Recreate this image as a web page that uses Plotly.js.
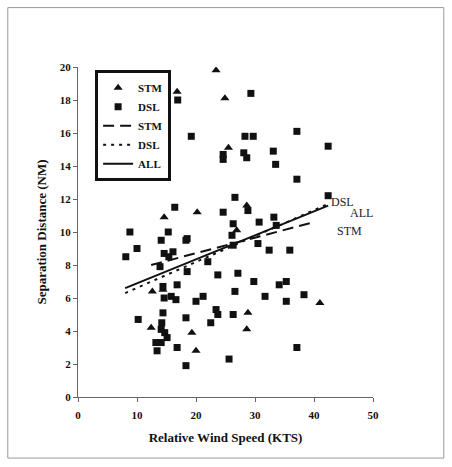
<!DOCTYPE html>
<html><head><meta charset="utf-8">
<script src="https://cdn.plot.ly/plotly-3.0.1.min.js"></script>
<style>html,body{margin:0;padding:0;background:#fff}#chart{width:452px;height:467px}</style>
</head><body><div id="chart"></div>
<script>
// STM (triangles)
const stmX = [23.4, 16.8, 24.9, 25.5, 14.6, 20.2, 28.6, 26.9, 12.6, 14.4, 12.4, 19.3, 20.0, 28.8, 28.6, 41.0];
const stmY = [19.8, 18.5, 18.1, 15.1, 10.9, 11.2, 11.6, 10.1, 6.4, 6.5, 4.2, 3.9, 2.8, 5.1, 4.1, 5.7];
// DSL (squares)
const dslX = [16.9, 29.3, 19.2, 37.1, 28.3, 29.7, 42.4, 24.6, 24.6, 28.1, 28.6, 33.1, 33.5, 37.1, 42.4, 26.6, 28.8, 24.6, 16.4, 30.7,
  33.2, 33.6, 26.3, 26.1, 26.3, 30.5, 32.4, 35.9, 22.0, 23.7, 27.1, 29.8, 34.1, 35.3, 26.6, 31.7, 38.3, 21.2, 35.3, 23.4,
  23.7, 26.3, 22.5, 37.1, 25.6, 20.0, 18.3, 18.3, 14.4, 16.8, 14.6, 15.8, 16.6, 14.4, 10.2, 14.2, 14.1, 14.7, 15.1, 13.2,
  14.1, 13.4, 16.8, 8.8, 15.3, 10.0, 14.1, 16.1, 14.6, 15.4, 8.1, 13.9, 18.3, 18.5, 18.5];
const dslY = [18.0, 18.4, 15.8, 16.1, 15.8, 15.8, 15.2, 14.7, 14.4, 14.8, 14.5, 14.9, 14.1, 13.2, 12.2, 12.1, 11.3, 11.2, 11.5, 10.6,
  10.9, 10.4, 10.5, 9.8, 9.2, 9.3, 8.9, 8.9, 8.2, 7.4, 7.5, 7.0, 6.8, 7.0, 6.4, 6.1, 6.2, 6.1, 5.8, 5.3,
  5.0, 5.0, 4.5, 3.0, 2.3, 5.8, 4.8, 1.9, 6.7, 6.8, 6.0, 6.1, 5.9, 5.1, 4.7, 4.5, 4.1, 3.9, 3.6, 3.3,
  3.3, 2.8, 3.0, 10.0, 10.0, 9.0, 9.5, 8.8, 8.7, 8.5, 8.5, 7.9, 9.5, 9.6, 7.6];
// trend lines (endpoints)
const stmFitX = [12.4, 40.0], stmFitY = [8.0, 10.6];
const dslFitX = [8.0, 42.4], dslFitY = [6.3, 11.7];
const allFitX = [8.0, 42.4], allFitY = [6.6, 11.6];
const lineLabels = ["DSL", "ALL", "STM"];
const lineLabelX = [44.9, 48.1, 46.1];
const lineLabelY = [11.8, 11.15, 10.05];

const serif = "Liberation Serif, Times New Roman, serif";
const traces = [
  {x: stmX, y: stmY, mode: "markers", type: "scatter", name: "STM",
   marker: {symbol: "triangle-up", size: 8, color: "#111"}},
  {x: dslX, y: dslY, mode: "markers", type: "scatter", name: "DSL",
   marker: {symbol: "square", size: 7, color: "#111"}},
  {x: stmFitX, y: stmFitY, mode: "lines", type: "scatter", name: "STM",
   line: {color: "#111", width: 2, dash: "11px,6px"}},
  {x: dslFitX, y: dslFitY, mode: "lines", type: "scatter", name: "DSL",
   line: {color: "#111", width: 2, dash: "3px,5px"}},
  {x: allFitX, y: allFitY, mode: "lines", type: "scatter", name: "ALL",
   line: {color: "#111", width: 2}}
];
const annotations = lineLabels.map((t, i) => ({
  x: lineLabelX[i], y: lineLabelY[i], xref: "x", yref: "y", text: t, showarrow: false,
  font: {family: serif, size: 12, color: "#222"}
}));
const layout = {
  width: 452, height: 467,
  margin: {l: 78, r: 79, t: 67, b: 70},
  paper_bgcolor: "#fff", plot_bgcolor: "#fff",
  showlegend: true,
  legend: {x: 0.058, y: 0.99, xanchor: "left", yanchor: "top",
    bordercolor: "#111", borderwidth: 3, bgcolor: "#fff",
    font: {family: serif, size: 11, color: "#111", weight: "bold"},
    itemwidth: 30, tracegroupgap: 0},
  xaxis: {range: [0, 50], tickvals: [0, 10, 20, 30, 40, 50], showgrid: false, zeroline: false,
    showline: true, linecolor: "#666", linewidth: 1, ticks: "outside", ticklen: 4, tickcolor: "#666",
    tickfont: {family: serif, size: 11, color: "#111", weight: "bold"}, ticklabelstandoff: 4,
    title: {text: "Relative Wind Speed (KTS)", font: {family: serif, size: 13, color: "#111", weight: "bold"}, standoff: 12}},
  yaxis: {range: [0, 20], tickvals: [0, 2, 4, 6, 8, 10, 12, 14, 16, 18, 20], showgrid: false, zeroline: false,
    showline: true, linecolor: "#666", linewidth: 1, ticks: "outside", ticklen: 4, tickcolor: "#666",
    tickfont: {family: serif, size: 11, color: "#111", weight: "bold"},
    title: {text: "Separation Distance (NM)", font: {family: serif, size: 13, color: "#111", weight: "bold"}, standoff: 10}},
  annotations: annotations,
  shapes: [{type: "rect", xref: "paper", yref: "paper", x0: -0.238, x1: 1.24, y0: -0.185, y1: 1.18,
    line: {color: "#999", width: 1}}]
};
Plotly.newPlot("chart", traces, layout, {displayModeBar: false, staticPlot: true});
</script></body></html>
